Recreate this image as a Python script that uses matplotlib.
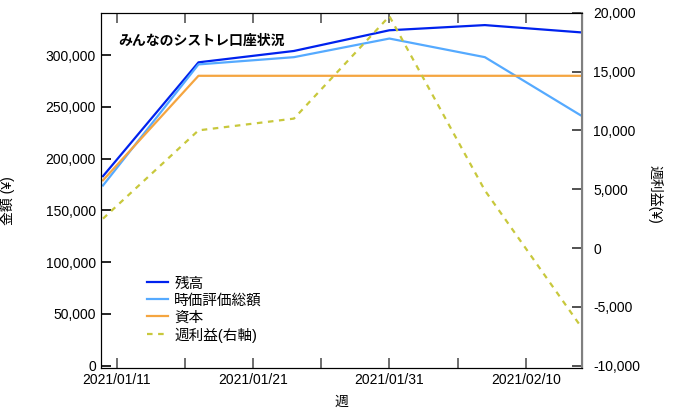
import matplotlib.pyplot as plt
import pandas as pd

plt.rcParams['font.family'] = ['Liberation Sans', 'Noto Sans CJK JP', 'DejaVu Sans']
plt.rcParams['font.size'] = 10

weeks = pd.to_datetime(['2021-01-10', '2021-01-17', '2021-01-24',
                        '2021-01-31', '2021-02-07', '2021-02-14'])
balance = [183000, 293000, 304000, 324000, 329000, 322000]
market_value = [174000, 291000, 298000, 316000, 298000, 242000]
capital = [179000, 280000, 280000, 280000, 280000, 280000]
weekly_profit = [2500, 10000, 11000, 19700, 4900, -6600]
label_days = ['2021-01-11', '2021-01-21', '2021-01-31', '2021-02-10']
minor_days = ['2021-01-16', '2021-01-26', '2021-02-05']

fig = plt.figure(figsize=(6.76, 4.09), dpi=100)
ax = fig.add_axes([0.149, 0.100, 0.712, 0.869])
ax2 = ax.twinx()

l1, = ax.plot(weeks, balance, color='#0022ee', lw=1.6, label='残高')
l2, = ax.plot(weeks, market_value, color='#55aaff', lw=1.6, label='時価評価総額')
l3, = ax.plot(weeks, capital, color='#f5a540', lw=1.6, label='資本')
l4, = ax2.plot(weeks, weekly_profit, color='#c8c83c', lw=1.6, ls=(0, (2.5, 2.5)),
               label='週利益(右軸)')

ax.set_xlim(pd.Timestamp('2021-01-10') - pd.Timedelta(hours=4),
            pd.Timestamp('2021-02-14') + pd.Timedelta(hours=3))
ax.set_ylim(-2500, 341000)
ax2.set_ylim(-10200, 20000)

ax.set_yticks(range(0, 300001, 50000))
ax.yaxis.set_major_formatter(plt.FuncFormatter(lambda v, p: f'{int(v):,}'))
ax2.set_yticks(range(-10000, 20001, 5000))
ax2.yaxis.set_major_formatter(plt.FuncFormatter(lambda v, p: f'{int(v):,}'))

ticks = pd.to_datetime(label_days)
ax.set_xticks(ticks)
ax.set_xticklabels([d.strftime('%Y/%m/%d') for d in ticks])
ax.set_xticks(pd.to_datetime(minor_days), minor=True)

ax.tick_params(axis='both', which='both', direction='in', length=7, width=1.2,
               top=True)
ax2.tick_params(axis='y', direction='in', length=7, width=1.2, color='#333333',
                pad=8)
ax.tick_params(axis='x', which='both', colors='#555555', labelcolor='black')

ax2.spines['right'].set_color('#808080')
ax2.spines['right'].set_linewidth(1.5)

ax.set_xlabel('週', va='center')
ax.xaxis.set_label_coords(0.5, -0.096)
ax.set_ylabel('金額 (¥)', va='center')
ax.yaxis.set_label_coords(-0.193, 0.47)
ax2.set_ylabel('週利益(¥)', rotation=270, va='center')
ax2.yaxis.set_label_coords(1.152, 0.49)

ax.text(0.036, 0.92, 'みんなのシストレ口座状況', transform=ax.transAxes,
        fontsize=10, fontweight='bold', va='center')

ax2.legend(handles=[l1, l2, l3, l4], loc='lower left',
           bbox_to_anchor=(0.068, 0.035), frameon=False, fontsize=10.5,
           handlelength=1.45, handletextpad=0.45, labelspacing=0.2)

fig.savefig('out.png')
